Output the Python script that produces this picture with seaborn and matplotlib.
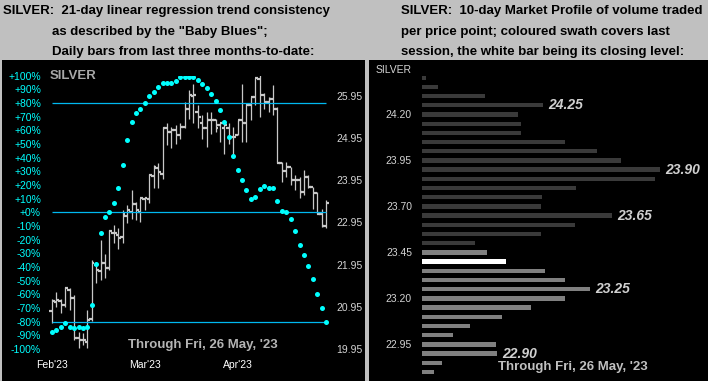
import numpy as np
import pandas as pd
import seaborn as sns
import matplotlib.pyplot as plt

plt.rcParams['font.family'] = ['Liberation Sans', 'DejaVu Sans']

# left panel: daily bars, Feb'23 through 26 May '23
opens = [20.85, 21.05, 21.08, 21.00, 21.35, 21.15, 20.20, 20.16, 20.10, 20.65,
         21.95, 21.80, 21.98, 21.86, 22.70, 22.65, 22.60, 23.10, 23.20, 23.38,
         23.20, 23.50, 23.50, 24.05, 24.25, 24.10, 25.19, 25.10, 25.14, 25.03,
         25.22, 25.65, 25.95, 25.57, 25.30, 25.18, 25.37, 25.37, 25.26, 25.20,
         25.20, 24.98, 25.02, 25.37, 25.30, 25.73, 25.93, 26.36, 25.97, 25.81,
         25.89, 25.65, 24.37, 24.17, 24.27, 23.95, 23.95, 23.68, 24.03, 23.79,
         23.64, 23.16, 22.87]
highs = [21.13, 21.31, 21.13, 21.42, 21.40, 21.23, 20.36, 20.32, 20.87, 22.06,
         21.98, 22.53, 22.21, 22.77, 22.89, 22.81, 23.24, 23.36, 23.72, 23.44,
         23.52, 23.56, 24.11, 24.31, 24.35, 25.22, 25.30, 25.22, 25.26, 25.30,
         25.81, 26.10, 26.24, 25.73, 25.49, 25.57, 25.57, 25.41, 25.30, 25.33,
         25.30, 25.22, 25.37, 26.24, 25.77, 25.93, 26.38, 26.44, 26.01, 25.93,
         26.20, 25.69, 24.39, 24.39, 24.27, 24.07, 24.03, 24.19, 24.07, 23.79,
         23.68, 23.28, 23.48]
lows = [20.56, 20.95, 20.79, 20.95, 20.87, 20.16, 19.98, 20.04, 19.96, 20.60,
        21.50, 21.58, 21.62, 21.82, 22.45, 22.33, 22.45, 22.93, 23.04, 23.00,
        22.97, 23.24, 23.40, 23.76, 23.76, 23.99, 24.78, 24.72, 24.82, 24.94,
        25.18, 25.40, 25.30, 25.18, 24.94, 24.74, 25.06, 25.10, 24.86, 24.58,
        24.82, 24.54, 25.02, 24.86, 24.86, 25.37, 25.73, 25.45, 25.65, 25.57,
        25.49, 24.35, 23.91, 24.03, 23.83, 23.72, 23.52, 23.60, 23.76, 23.28,
        23.16, 22.85, 22.81]
closes = [21.08, 21.12, 21.00, 21.40, 21.15, 20.20, 20.16, 20.16, 20.63, 21.98,
          21.82, 21.98, 21.86, 22.75, 22.69, 22.57, 23.14, 23.24, 23.38, 23.24,
          23.52, 23.52, 24.07, 24.27, 24.15, 25.19, 25.10, 25.14, 25.03, 25.22,
          25.65, 25.97, 25.97, 25.45, 25.18, 25.37, 25.37, 25.18, 25.30, 25.26,
          24.98, 24.98, 25.37, 25.30, 25.73, 25.93, 26.38, 25.97, 25.81, 25.89,
          25.65, 24.37, 24.17, 24.27, 23.95, 23.95, 23.68, 24.03, 23.79, 23.64,
          23.16, 22.87, 23.42]
baby_blues = [-88, -86, -84, -81, -84, -85, -84, -85, -84, -68,
              -38, -15, -3.5, 0, 7, 18, 35, 53, 66, 73,
              76, 80, 85, 88, 92, 95, 95, 95, 96, 99,
              99, 99, 99, 97, 94, 91, 87, 81.5, 75, 66,
              55, 41, 31, 24, 16, 10, 11.5, 17, 19.5, 18,
              18, 8.5, 1, 0.5, -4.7, -13.5, -24, -31, -39, -49,
              -60, -70, -80]
month_labels = ["Feb'23", "Mar'23", "Apr'23"]
month_pos = [0, 21, 42]
pct_ticks = [100, 90, 80, 70, 60, 50, 40, 30, 20, 10, 0,
             -10, -20, -30, -40, -50, -60, -70, -80, -90, -100]
pct_labels = ["+100%", "+90%", "+80%", "+70%", "+60%", "+50%", "+40%", "+30%",
              "+20%", "+10%", "+0%", "-10%", "-20%", "-30%", "-40%", "-50%",
              "-60%", "-70%", "-80%", "-90%", "-100%"]
ref_levels = [80, 0, -80]
price_ticks = [25.95, 24.95, 23.95, 22.95, 21.95, 20.95, 19.95]

# right panel: 10-day market profile
profile_prices = ["24.40", "24.35", "24.30", "24.25", "24.20", "24.15", "24.10",
                  "24.05", "24.00", "23.95", "23.90", "23.85", "23.80", "23.75",
                  "23.70", "23.65", "23.60", "23.55", "23.50", "23.45", "23.40",
                  "23.35", "23.30", "23.25", "23.20", "23.15", "23.10", "23.05",
                  "23.00", "22.95", "22.90", "22.85", "22.80"]
profile_volume = [4, 16, 63, 121, 96, 99, 99, 143, 175, 199, 238, 233, 154, 120,
                  119, 190, 153, 119, 53, 65, 84, 123, 143, 168, 143, 109, 80,
                  48, 31, 74, 75, 20, 12]
last_session = ["23.45", "23.40", "23.35", "23.30", "23.25", "23.20", "23.15",
                "23.10", "23.05", "23.00", "22.95", "22.90", "22.85", "22.80"]
last_close = "23.40"
profile_ticks = ["24.20", "23.95", "23.70", "23.45", "23.20", "22.95"]
profile_callouts = ["24.25", "23.90", "23.65", "23.25", "22.90"]

W, H = 708, 381


def box(x0, y0, x1, y1):
    return [x0 / W, 1 - y1 / H, (x1 - x0) / W, (y1 - y0) / H]


def blank(ax):
    ax.set_xticks([])
    ax.set_yticks([])
    for s in ax.spines.values():
        s.set_visible(False)


fig = plt.figure(figsize=(W / 100, H / 100), dpi=100)
fig.patch.set_facecolor("#c0c0c0")

for b in [box(2, 60, 365, 381), box(369, 60, 708, 381)]:
    bg = fig.add_axes(b)
    bg.set_facecolor("black")
    blank(bg)

# titles
tkw = dict(fontsize=9.5, fontweight="bold", color="black", va="center", ha="left")
fig.text(3 / W, 1 - 11 / H, "SILVER:  21-day linear regression trend consistency", **tkw)
fig.text(52 / W, 1 - 32 / H, 'as described by the "Baby Blues";', **tkw)
fig.text(52 / W, 1 - 52 / H, "Daily bars from last three months-to-date:", **tkw)
fig.text(401 / W, 1 - 11 / H, "SILVER:  10-day Market Profile of volume traded", **tkw)
fig.text(401 / W, 1 - 32 / H, "per price point; coloured swath covers last", **tkw)
fig.text(401 / W, 1 - 52 / H, "session, the white bar being its closing level:", **tkw)

# left panel: price bars + baby blues
axv = fig.add_axes(box(44, 75.8, 334, 348.8))
axp = axv.twinx()
axv.patch.set_alpha(0)
axp.patch.set_alpha(0)
x = np.arange(len(closes))
bar_col = "#c8c8c8"
axv.vlines(x, lows, highs, color=bar_col, lw=0.9)
axv.hlines(opens, x - 0.6, x, color=bar_col, lw=1.6)
axv.hlines(closes, x, x + 0.6, color=bar_col, lw=1.6)

axp.hlines(ref_levels, 0, len(x) - 1, color="#00b8f0", lw=0.9, zorder=1)
sns.scatterplot(x=x, y=baby_blues, ax=axp, color="#00ffff", s=13,
                linewidth=0, marker="o", zorder=5)

axv.set_xlim(-1.81, 63.8)
axv.set_ylim(19.96, 26.43)
axp.set_ylim(-100, 100)
axv.yaxis.tick_right()
axp.yaxis.tick_left()
axv.set_yticks(price_ticks)
axv.set_yticklabels([f"{p:.2f}" for p in price_ticks])
axv.tick_params(axis="y", length=0, pad=1.4, labelsize=7.5, labelcolor="#d4d4d4")
axp.set_yticks(pct_ticks)
axp.set_yticklabels(pct_labels)
axp.tick_params(axis="y", length=0, pad=2.2, labelsize=7.5, labelcolor="#00ffff")
axv.set_xticks(month_pos)
axv.set_xticklabels(month_labels)
axv.tick_params(axis="x", length=0, pad=8, labelsize=7.5, labelcolor="white")
for a in (axv, axp):
    for s in a.spines.values():
        s.set_visible(False)

fig.text(50 / W, 1 - 75.7 / H, "SILVER", fontsize=9.5, fontweight="bold",
         color="#a8a8a8", va="center", ha="left")
fig.text(128 / W, 1 - 345 / H, "Through Fri, 26 May, '23", fontsize=9.5,
         fontweight="bold", color="#b4b4b4", va="center", ha="left")

# right panel: market profile
colors = []
for p in profile_prices:
    if p == last_close:
        colors.append("#ffffff")
    elif p in last_session:
        colors.append("#808080")
    else:
        colors.append("#3a3a3a")
prof = pd.DataFrame({"price": profile_prices, "volume": profile_volume})
axr = fig.add_axes(box(422, 60, 707, 381))
axr.patch.set_alpha(0)
sns.barplot(data=prof, x="volume", y="price", hue="price",
            palette=dict(zip(profile_prices, colors)), legend=False,
            width=0.47, saturation=1, linewidth=0, ax=axr)
axr.set_xlim(0, 285)
axr.set_ylim(32.98, -1.924)
axr.set_xticks([])
axr.set_xlabel("")
axr.set_ylabel("")
axr.set_yticks([profile_prices.index(p) for p in profile_ticks])
axr.set_yticklabels(profile_ticks)
axr.tick_params(axis="y", length=0, pad=7.2, labelsize=7.5, labelcolor="#d4d4d4")
for s in axr.spines.values():
    s.set_visible(False)
for p in profile_callouts:
    i = profile_prices.index(p)
    axr.annotate(p, xy=(profile_volume[i], i), xytext=(3.6, 0),
                 textcoords="offset points", va="center", ha="left",
                 fontsize=10, fontweight="bold", fontstyle="italic", color="#d0d0d0")

fig.text(412 / W, 1 - 70 / H, "SILVER", fontsize=7.5, color="#d4d4d4",
         va="center", ha="right")
fig.text(498 / W, 1 - 367 / H, "Through Fri, 26 May, '23", fontsize=9.5,
         fontweight="bold", color="#c0c0c0", va="center", ha="left")

fig.savefig("out.png", dpi=100, facecolor=fig.get_facecolor())
